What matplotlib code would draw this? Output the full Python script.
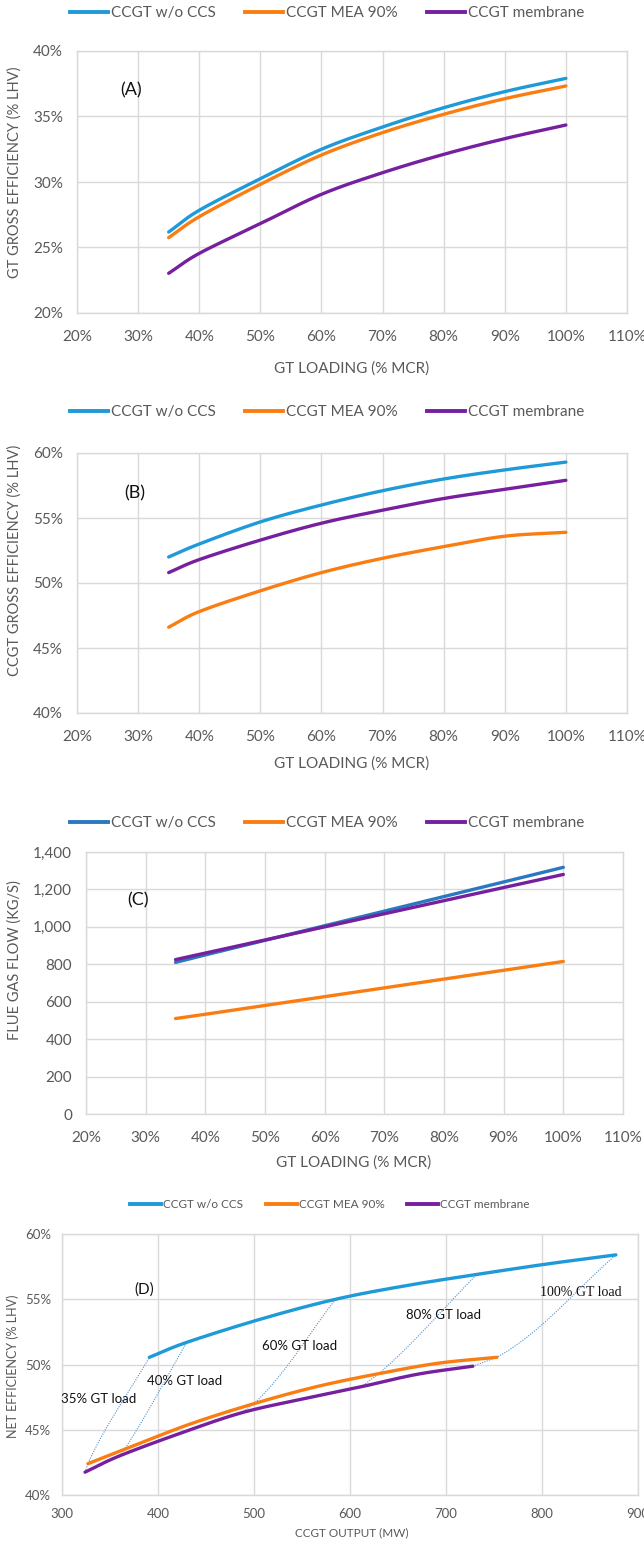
import numpy as np
import matplotlib
matplotlib.use('Agg')
import matplotlib.pyplot as plt
from matplotlib.ticker import FuncFormatter, MultipleLocator
from matplotlib.lines import Line2D

plt.rcParams['font.family'] = ['Lato', 'DejaVu Sans']

# ---------------- data ----------------
series_names = ['CCGT w/o CCS', 'CCGT MEA 90%', 'CCGT membrane']
load = [35, 40, 50, 60, 70, 80, 90, 100]          # GT loading, % MCR

# (A) GT gross efficiency, % LHV
a_wo = [26.18, 27.84, 30.25, 32.5, 34.2, 35.67, 36.9, 37.91]
a_mea = [25.75, 27.35, 29.82, 32.06, 33.77, 35.17, 36.36, 37.33]
a_mem = [23.03, 24.55, 26.82, 29.06, 30.71, 32.11, 33.31, 34.35]

# (B) CCGT gross efficiency, % LHV
b_wo = [52.0, 53.0, 54.7, 56.0, 57.1, 58.0, 58.7, 59.3]
b_mea = [46.6, 47.8, 49.4, 50.8, 51.9, 52.8, 53.6, 53.9]
b_mem = [50.8, 51.8, 53.3, 54.6, 55.6, 56.5, 57.2, 57.9]

# (C) flue gas flow, kg/s
c_wo = [810, 850, 928, 1006, 1084, 1162, 1240, 1318]
c_mea = [510, 533, 580, 627, 674, 721, 768, 815]
c_mem = [825, 860, 930, 1000, 1070, 1140, 1210, 1280]

# (D) CCGT output (MW) and net efficiency (% LHV) at the same loads
d_wo_mw = [391, 430, 508, 585, 659, 732, 805, 877]
d_wo_eff = [50.55, 51.7, 53.5, 55.0, 56.05, 56.9, 57.7, 58.4]
d_mea_mw = [327, 365, 432, 500, 565, 630, 692, 753]
d_mea_eff = [42.4, 43.5, 45.4, 47.0, 48.3, 49.3, 50.1, 50.55]
d_mem_mw = [324, 360, 424, 487, 550, 612, 670, 728]
d_mem_eff = [41.75, 43.0, 44.75, 46.3, 47.35, 48.3, 49.25, 49.87]
d_iso_loads = [35, 40, 60, 80, 100]
d_iso_labels = ['35% GT load', '40% GT load', '60% GT load', '80% GT load', '100% GT load']
d_label_mw = [338, 428, 547, 697, 840]
d_label_eff = [47.35, 48.75, 51.45, 53.8, 55.5]

x_ticks_load = [20, 30, 40, 50, 60, 70, 80, 90, 100, 110]

# ---------------- style ----------------
BLUE = '#1f9ad8'
BLUE_C = '#2a78bf'
ORANGE = '#fa7d12'
PURPLE = '#7620a0'
GRID = '#d9d9d9'
TXT = '#595959'
LW = 2.4
W, H = 644, 1542


def smooth(x, y, n=20):
    """Catmull-Rom rendering through the given points (like Excel smoothed lines)."""
    x = np.asarray(x, float)
    y = np.asarray(y, float)
    if len(x) < 3:
        return x, y
    px = np.concatenate([[2 * x[0] - x[1]], x, [2 * x[-1] - x[-2]]])
    py = np.concatenate([[2 * y[0] - y[1]], y, [2 * y[-1] - y[-2]]])
    xs, ys = [], []
    for i in range(1, len(px) - 2):
        t = np.linspace(0, 1, n, endpoint=(i == len(px) - 3))
        for arr, out in ((px, xs), (py, ys)):
            p0, p1, p2, p3 = arr[i - 1], arr[i], arr[i + 1], arr[i + 2]
            out.extend(0.5 * ((2 * p1) + (-p0 + p2) * t +
                              (2 * p0 - 5 * p1 + 4 * p2 - p3) * t ** 2 +
                              (-p0 + 3 * p1 - 3 * p2 + p3) * t ** 3))
    return np.array(xs), np.array(ys)


def iso_line(p_top, p_mid, p_low, sx, sy, n=60):
    """Smoothed connector top -> mid -> low (rendering only), computed in screen-like units."""
    A = np.array([p_top[0] * sx, p_top[1] * sy])
    M = np.array([p_mid[0] * sx, p_mid[1] * sy])
    L = np.array([p_low[0] * sx, p_low[1] * sy])
    chord = A - M
    d = M - L
    u = d / np.linalg.norm(d) + (A - L) / np.linalg.norm(A - L)
    m0 = u / np.linalg.norm(u) * np.linalg.norm(chord)
    m1 = chord
    t = np.linspace(0, 1, n)[:, None]
    h00 = 2 * t ** 3 - 3 * t ** 2 + 1
    h10 = t ** 3 - 2 * t ** 2 + t
    h01 = -2 * t ** 3 + 3 * t ** 2
    h11 = t ** 3 - t ** 2
    seg = h00 * M + h10 * m0 + h01 * A + h11 * m1
    pts = np.vstack([L, seg])
    return pts[:, 0] / sx, pts[:, 1] / sy


fig = plt.figure(figsize=(W / 100, H / 100), dpi=100)


def add_ax(left, top, right, bottom):
    return fig.add_axes([left / W, 1 - bottom / H, (right - left) / W, (bottom - top) / H])


def style(ax, fs=11, xpad=12, ypad=10):
    ax.grid(True, color=GRID, lw=1)
    ax.set_axisbelow(True)
    for s in ax.spines.values():
        s.set_color(GRID)
        s.set_linewidth(1)
    ax.tick_params(length=0, labelsize=fs, colors=TXT)
    ax.tick_params(axis='x', pad=xpad)
    ax.tick_params(axis='y', pad=ypad)


pct = FuncFormatter(lambda v, p: f'{v:.0f}%')


def legend(colors, cx, cy, fs=11, hl=2.5, cs=1.9):
    handles = [Line2D([], [], color=c, lw=LW + 0.4) for c in colors]
    leg = fig.legend(handles, series_names, loc='center', bbox_to_anchor=(cx / W, 1 - cy / H),
                     ncol=3, frameon=False, fontsize=fs, handlelength=hl,
                     handletextpad=0.2, columnspacing=cs, labelcolor=TXT)
    return leg


def load_axis(ax):
    ax.set_xlim(20, 110)
    ax.set_xticks(x_ticks_load)
    ax.xaxis.set_major_formatter(pct)


# ---------- (A) ----------
axA = add_ax(77, 51, 627, 313)
style(axA)
load_axis(axA)
axA.set_ylim(20, 40)
axA.yaxis.set_major_locator(MultipleLocator(5))
axA.yaxis.set_major_formatter(pct)
for ys, c in ((a_wo, BLUE), (a_mea, ORANGE), (a_mem, PURPLE)):
    axA.plot(*smooth(load, ys), color=c, lw=LW, solid_capstyle='round')
axA.text(28.8, 37.0, '(A)', fontsize=13, ha='center', va='center', color='#111111')
legend([BLUE, ORANGE, PURPLE], 327, 13)
fig.text(352 / W, 1 - 369 / H, 'GT LOADING (% MCR)', ha='center', va='center', fontsize=11, color=TXT)
fig.text(15 / W, 1 - 172 / H, 'GT GROSS EFFICIENCY (% LHV)', rotation=90, ha='center', va='center',
         fontsize=10.5, color=TXT)

# ---------- (B) ----------
axB = add_ax(77, 453, 627, 713)
style(axB)
load_axis(axB)
axB.set_ylim(40, 60)
axB.yaxis.set_major_locator(MultipleLocator(5))
axB.yaxis.set_major_formatter(pct)
for ys, c in ((b_wo, BLUE), (b_mea, ORANGE), (b_mem, PURPLE)):
    axB.plot(*smooth(load, ys), color=c, lw=LW, solid_capstyle='round')
axB.text(29.5, 56.9, '(B)', fontsize=13, ha='center', va='center', color='#111111')
legend([BLUE, ORANGE, PURPLE], 327, 412)
fig.text(352 / W, 1 - 764 / H, 'GT LOADING (% MCR)', ha='center', va='center', fontsize=11, color=TXT)
fig.text(15 / W, 1 - 560 / H, 'CCGT GROSS EFFICIENCY (% LHV)', rotation=90, ha='center', va='center',
         fontsize=10.5, color=TXT)

# ---------- (C) ----------
axC = add_ax(86, 852, 623, 1114)
style(axC)
load_axis(axC)
axC.set_ylim(0, 1400)
axC.yaxis.set_major_locator(MultipleLocator(200))
axC.yaxis.set_major_formatter(FuncFormatter(lambda v, p: f'{v:,.0f}'))
for ys, c in ((c_wo, BLUE_C), (c_mea, ORANGE), (c_mem, PURPLE)):
    axC.plot(load, ys, color=c, lw=LW, solid_capstyle='round')
axC.text(28.7, 1140, '(C)', fontsize=13, ha='center', va='center', color='#111111')
legend([BLUE_C, ORANGE, PURPLE], 327, 823)
fig.text(354 / W, 1 - 1163 / H, 'GT LOADING (% MCR)', ha='center', va='center', fontsize=11, color=TXT)
fig.text(15 / W, 1 - 960 / H, 'FLUE GAS FLOW (KG/S)', rotation=90, ha='center', va='center',
         fontsize=10.5, color=TXT)

# ---------- (D) ----------
axD = add_ax(62, 1234, 638, 1495)
style(axD, fs=9.5, xpad=9, ypad=8)
axD.set_xlim(300, 900)
axD.xaxis.set_major_locator(MultipleLocator(100))
axD.set_ylim(40, 60)
axD.yaxis.set_major_locator(MultipleLocator(5))
axD.yaxis.set_major_formatter(pct)
curves = [(d_wo_mw, d_wo_eff), (d_mea_mw, d_mea_eff), (d_mem_mw, d_mem_eff)]
sx, sy = 576 / 600, 261 / 20
for ld in d_iso_loads:
    k = load.index(ld)
    pts = [(cv[0][k], cv[1][k]) for cv in curves]
    axD.plot(*iso_line(pts[0], pts[1], pts[2], sx, sy), color='#4f92d2', lw=0.8, ls=(0, (1, 1.2)))
for (xm, ye), c in zip(curves, (BLUE, ORANGE, PURPLE)):
    axD.plot(*smooth(xm, ye), color=c, lw=LW, solid_capstyle='round')
for lab, lx, ly in zip(d_iso_labels, d_label_mw, d_label_eff):
    if lab.startswith('100'):
        axD.text(lx, ly, lab, fontsize=10, ha='center', va='center', color='#111111',
                 family=['Liberation Serif', 'DejaVu Serif'])
    else:
        axD.text(lx, ly, lab, fontsize=9.5, ha='center', va='center', color='#111111')
axD.text(386, 55.75, '(D)', fontsize=11, ha='center', va='center', color='#111111')
legend([BLUE, ORANGE, PURPLE], 330, 1205, fs=8.5, hl=2.6, cs=1.9)
fig.text(352 / W, 1 - 1533 / H, 'CCGT OUTPUT (MW)', ha='center', va='center', fontsize=8.5, color=TXT)
fig.text(13 / W, 1 - 1366 / H, 'NET EFFICIENCY (% LHV)', rotation=90, ha='center', va='center',
         fontsize=9, color=TXT)

fig.savefig('out.png', dpi=100)
